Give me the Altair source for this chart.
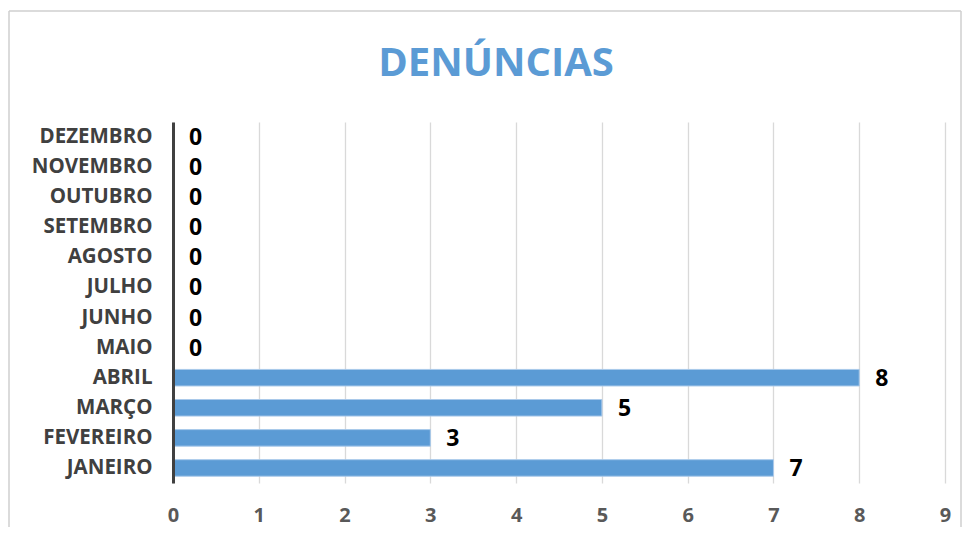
import altair as alt
import pandas as pd

months = ["JANEIRO", "FEVEREIRO", "MARÇO", "ABRIL", "MAIO", "JUNHO",
          "JULHO", "AGOSTO", "SETEMBRO", "OUTUBRO", "NOVEMBRO", "DEZEMBRO"]
values = [7, 3, 5, 8, 0, 0, 0, 0, 0, 0, 0, 0]
x_ticks = [0, 1, 2, 3, 4, 5, 6, 7, 8, 9]

df = pd.DataFrame({"mes": months, "denuncias": values})
order = list(reversed(months))

FONT = "Open Sans"
BLUE = "#5B9BD5"

y_enc = alt.Y("mes:N", sort=order, title=None,
              scale=alt.Scale(paddingInner=0.45, paddingOuter=0.225),
              axis=alt.Axis(labelFont=FONT, labelFontSize=20.5, labelFontWeight="bold",
                            labelColor="#404040", labelPadding=21, ticks=False,
                            domainColor="#404040", domainWidth=3, grid=False, zindex=1))
x_enc = alt.X("denuncias:Q", title=None,
              scale=alt.Scale(domain=[0, 9], nice=False),
              axis=alt.Axis(values=x_ticks, format="d", labelFont=FONT, labelFontSize=20,
                            labelFontWeight="bold", labelColor="#595959", labelPadding=22,
                            labelFlush=False, ticks=False, domain=False, grid=True,
                            gridColor="#d9d9d9", gridWidth=1.3))

base = alt.Chart(df)
bars = base.mark_bar(color=BLUE, stroke="#a9c9ea", strokeWidth=1).encode(x=x_enc, y=y_enc)
labels = base.mark_text(align="left", baseline="middle", dx=16, dy=1, font=FONT,
                        fontSize=23, fontWeight="bold", color="black").encode(
    x=alt.X("denuncias:Q"), y=alt.Y("mes:N", sort=order), text="denuncias:Q")

one = pd.DataFrame({"k": [0]})
frame_col = "#cfcfcf"
left_rule = alt.Chart(one).mark_rule(color=frame_col, strokeWidth=1.5).encode(
    x=alt.value(-164), y=alt.value(-111), y2=alt.value(405))
right_rule = alt.Chart(one).mark_rule(color=frame_col, strokeWidth=1.5).encode(
    x=alt.value(788), y=alt.value(-111), y2=alt.value(405))
top_rule = alt.Chart(one).mark_rule(color=frame_col, strokeWidth=1.5).encode(
    x=alt.value(-164), x2=alt.value(788), y=alt.value(-111))

chart = alt.layer(left_rule, right_rule, top_rule, bars, labels).properties(
    width=772, height=361,
    background="white",
    title=alt.TitleParams("DENÚNCIAS", font=FONT, fontSize=40, fontWeight="bold",
                          color=BLUE, anchor="middle", frame="group", dx=-63,
                          baseline="alphabetic", offset=-106),
    autosize=alt.AutoSizeParams(type="none"),
    padding={"left": 165, "top": 114, "right": 17, "bottom": 44},
).configure_view(stroke=None)

chart.save("out.html", embed_options={"renderer": "svg", "actions": False})
